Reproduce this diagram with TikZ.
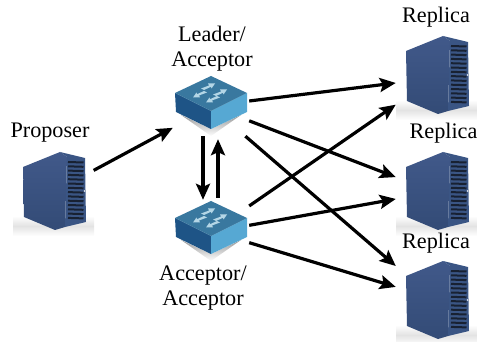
\documentclass[tikz,border=0pt]{standalone}
\usepackage{fontspec}
\setmainfont{Liberation Serif}
\usetikzlibrary{arrows.meta}

\definecolor{servermain}{HTML}{41598A}
\definecolor{serverlow}{HTML}{334B76}
\definecolor{serverdark}{HTML}{3A5584}
\definecolor{serverslot}{HTML}{182132}
\definecolor{switchtop}{HTML}{39789F}
\definecolor{switchleft}{HTML}{1E5486}
\definecolor{switchright}{HTML}{56A8D3}
\definecolor{switchmark}{HTML}{B4D6E6}

\tikzset{
  label text/.style={font=\fontsize{22.2}{25}\selectfont, align=center, inner sep=0pt},
  msg/.style={line width=3.2pt, -{Stealth[length=16pt,width=14pt,inset=3pt]}},
  serverbox/.style={minimum width=84pt, minimum height=86pt, inner sep=0pt},
  switchbox/.style={minimum width=76pt, minimum height=66pt, inner sep=0pt},
  server/.pic={
    \shade[top color=white, bottom color=white, middle color=black!11] (-42,26) rectangle (39,46);
    \shade[top color=servermain, bottom color=serverlow] (-32,-23) -- (5,-38) -- (12,-33) -- (10,37) -- (0,40) -- (-31,27) -- cycle;
    \fill[serverdark] (12,-33) -- (5,-38) -- (30,-32) -- (31,32) -- (10,37) -- cycle;
    \foreach \y in {-28,-23.7,...,31}
      \draw[serverslot, line width=2pt] (13,\y) -- (28.5,\y+0.5);
    \fill[white!80!servermain] (29.7,1) circle (1pt);
  },
  switchmark/.pic={
    \fill[switchmark] (-7,2.5) -- (1,-0.5) -- (0,-2.5) -- (7,-2.5) -- (3.5,2.5) -- (3,0.8) -- (-4,4) -- cycle;
  },
  switch/.pic={
    \shade[top color=black!40, bottom color=white] (-30,12) -- (0,26) -- (30,12) -- (0,33) -- cycle;
    \fill[switchleft] (-36,-10) -- (0,8) -- (0,26) -- (-35,9) -- cycle;
    \fill[switchright] (36,-10) -- (0,8) -- (0,26) -- (36,9) -- cycle;
    \fill[switchtop] (-36,-10) -- (0,-27) -- (36,-10) -- (0,8) -- cycle;
    \pic at (-3,-17) {switchmark};
    \pic[rotate=180] at (-11,-8) {switchmark};
    \pic at (9,-11) {switchmark};
    \pic[rotate=180] at (2,-3) {switchmark};
  },
}

\begin{document}
\begin{tikzpicture}[x=1pt,y=-1pt]
  \useasboundingbox (0,0) rectangle (477,342);

  % machines
  \pic at (55,190) {server};
  \pic at (438,74) {server};
  \pic at (438,190) {server};
  \pic at (438,299) {server};
  \pic at (211,103) {switch};
  \pic at (211,228) {switch};

  \node (proposer) [serverbox] at (55,190) {};
  \node (replicaA) [serverbox] at (438,74) {};
  \node (replicaB) [serverbox] at (438,190) {};
  \node (replicaC) [serverbox] at (438,299) {};
  \node (leader) [switchbox] at (211,103) {};
  \node (acceptor) [switchbox] at (211,228) {};

  % labels
  \node (proposerlabel) [label text] at (50,133) {Proposer};
  \node (leaderlabel) [label text] at (212,48.5) {Leader/\\Acceptor};
  \node (acceptorlabel) [label text] at (203,288) {Acceptor/\\Acceptor};
  \node (replicaAlabel) [label text] at (436,17) {Replica};
  \node (replicaBlabel) [label text] at (443.5,133) {Replica};
  \node (replicaClabel) [label text] at (436,243) {Replica};

  % messages
  \draw[msg, shorten <=-4pt] (proposer.27) -- (leader.-147);
  \draw[msg, shorten >=-5pt] ([xshift=-8pt]leader.south) -- ([xshift=-8pt]acceptor.north);
  \draw[msg, shorten <=-3pt, shorten >=3pt] ([xshift=7pt]acceptor.north) -- ([xshift=7pt]leader.south);
  \draw[msg] (leader.3) -- (replicaA.-168);
  \draw[msg] (leader.-25) -- (replicaB.163);
  \draw[msg] (leader.-44) -- (replicaC.142);
  \draw[msg] (acceptor.30) -- (replicaA.-144);
  \draw[msg] (acceptor.4) -- (replicaB.-168);
  \draw[msg] (acceptor.-21) -- (replicaC.164);
\end{tikzpicture}
\end{document}
